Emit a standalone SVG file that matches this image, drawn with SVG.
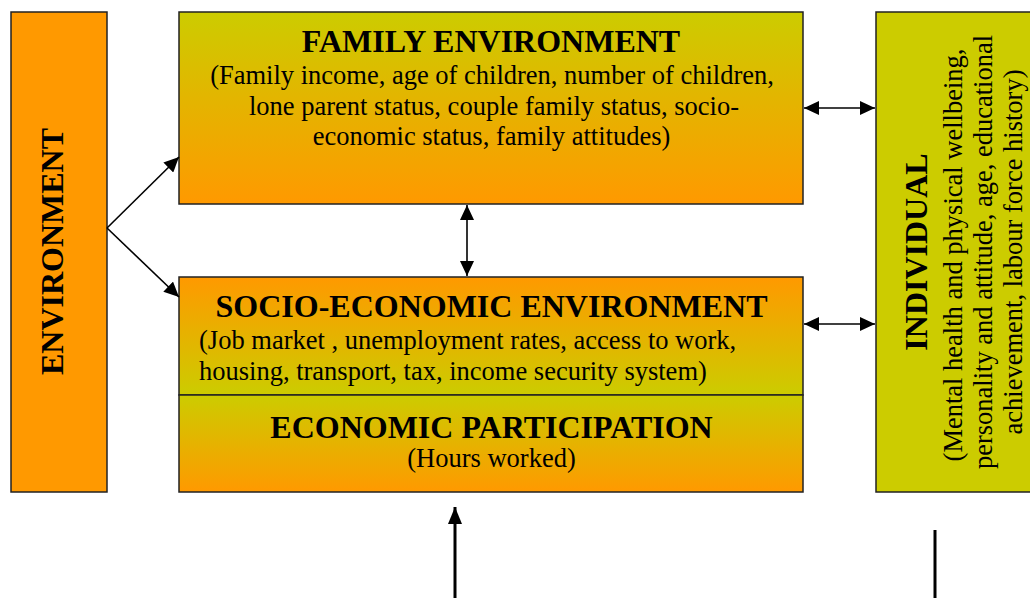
<svg xmlns="http://www.w3.org/2000/svg" width="1030" height="598" viewBox="0 0 1030 598">
<defs>
<linearGradient id="gDown" x1="0" y1="0" x2="0" y2="1">
<stop offset="0" stop-color="#CCCC00"/>
<stop offset="1" stop-color="#FF9900"/>
</linearGradient>
<linearGradient id="gUp" x1="0" y1="0" x2="0" y2="1">
<stop offset="0" stop-color="#FF9900"/>
<stop offset="1" stop-color="#CCCC00"/>
</linearGradient>
<marker id="ah" viewBox="0 0 15 14" refX="15" refY="7" markerWidth="15" markerHeight="14" markerUnits="userSpaceOnUse" orient="auto-start-reverse">
<path d="M0,0 L15,7 L0,14 z" fill="#000"/>
</marker>
<marker id="ahBig" viewBox="0 0 17 14" refX="17" refY="7" markerWidth="17" markerHeight="14" markerUnits="userSpaceOnUse" orient="auto">
<path d="M0,0 L17,7 L0,14 z" fill="#000"/>
</marker>
</defs>
<style>
.box{stroke:#222;stroke-width:1.5}
.t{font-family:"Liberation Serif","Times New Roman",serif;fill:#000}
.h{font-weight:bold;font-size:32px}
.s{font-size:26.5px}
.c{stroke:#000;stroke-width:1.6;fill:none}
</style>
<rect width="1030" height="598" fill="#fff"/>

<g id="environment">
<rect class="box" x="11" y="12" width="96" height="480" fill="#FF9900"/>
<text class="t h" transform="translate(63,251.5) rotate(-90)" text-anchor="middle">ENVIRONMENT</text>
</g>

<g id="family">
<rect class="box" x="179" y="12" width="624" height="192" fill="url(#gDown)"/>
<text class="t h" x="491" y="52" text-anchor="middle">FAMILY ENVIRONMENT</text>
<text class="t s" x="492" y="84" text-anchor="middle">(Family income, age of children, number of children,</text>
<text class="t s" x="494" y="114.5" text-anchor="middle">lone parent status, couple family status, socio-</text>
<text class="t s" x="491.5" y="145" text-anchor="middle">economic status, family attitudes)</text>
</g>

<g id="socio">
<rect class="box" x="179" y="277" width="624" height="118" fill="url(#gUp)"/>
<text class="t h" x="491.5" y="317" text-anchor="middle">SOCIO-ECONOMIC ENVIRONMENT</text>
<text class="t s" x="199" y="349">(Job market , unemployment rates, access to work,</text>
<text class="t s" x="199" y="380">housing, transport, tax, income security system)</text>
</g>

<g id="participation">
<rect class="box" x="179" y="395" width="624" height="97" fill="url(#gDown)"/>
<text class="t h" x="491.5" y="438" text-anchor="middle">ECONOMIC PARTICIPATION</text>
<text class="t s" x="491.5" y="467" text-anchor="middle">(Hours worked)</text>
</g>

<g id="individual">
<rect class="box" x="876" y="12" width="160" height="480" fill="#CCCC00"/>
<text class="t h" transform="translate(927,252) rotate(-90)" text-anchor="middle">INDIVIDUAL</text>
<text class="t s" transform="translate(962,255) rotate(-90)" text-anchor="middle">(Mental health and physical wellbeing,</text>
<text class="t s" transform="translate(992,252) rotate(-90)" text-anchor="middle">personality and attitude, age, educational</text>
<text class="t s" transform="translate(1022,252) rotate(-90)" text-anchor="middle">achievement, labour force history)</text>
</g>

<g id="connectors">
<line class="c" x1="107" y1="228" x2="179" y2="157" marker-end="url(#ah)"/>
<line class="c" x1="107" y1="228" x2="179" y2="297" marker-end="url(#ah)"/>
<line class="c" x1="467" y1="205" x2="467" y2="276" marker-start="url(#ah)" marker-end="url(#ah)"/>
<line class="c" x1="804" y1="108" x2="875" y2="108" marker-start="url(#ah)" marker-end="url(#ah)"/>
<line class="c" x1="804" y1="324" x2="875" y2="324" marker-start="url(#ah)" marker-end="url(#ah)"/>
<line stroke="#000" stroke-width="3" x1="455" y1="598" x2="455" y2="507" marker-end="url(#ahBig)"/>
<line stroke="#000" stroke-width="3" x1="935" y1="530" x2="935" y2="598"/>
</g>
</svg>
